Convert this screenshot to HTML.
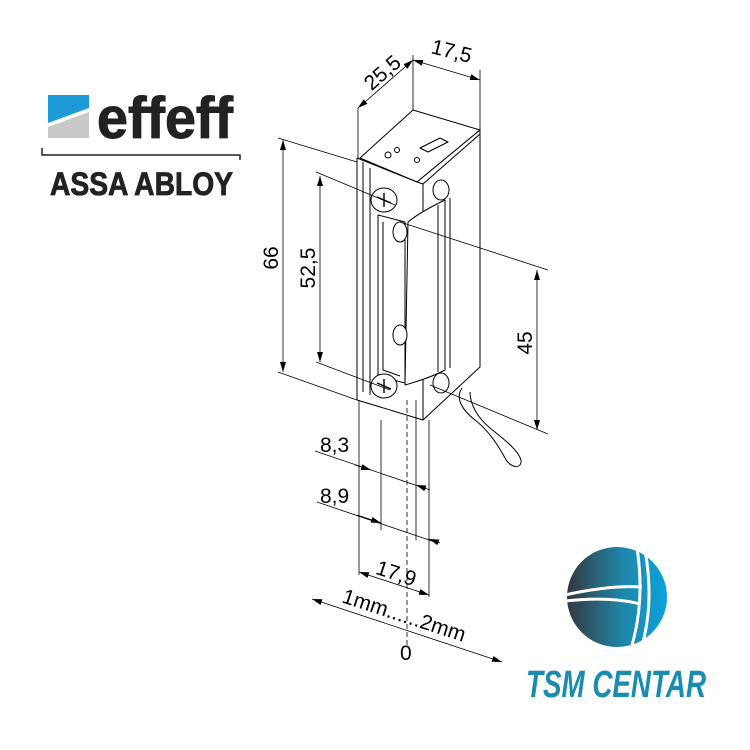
<!DOCTYPE html>
<html><head><meta charset="utf-8"><style>body{margin:0;background:#fff}svg{display:block}</style></head><body>
<svg width="750" height="750" viewBox="0 0 750 750" xmlns="http://www.w3.org/2000/svg" font-family="Liberation Sans, sans-serif">
<defs>
<linearGradient id="g" x1="0" x2="1" y1="0" y2="0"><stop offset="0" stop-color="#33383d"/><stop offset="0.55" stop-color="#1f86a8"/><stop offset="1" stop-color="#0aa2dc"/></linearGradient>
<marker id="a" viewBox="0 0 10 6" refX="10" refY="3" markerWidth="10" markerHeight="6" orient="auto-start-reverse" markerUnits="userSpaceOnUse"><path d="M0,0L10,3L0,6z" fill="#000"/></marker>
</defs>
<polygon points="48,95 89,95 89,108 48,123" fill="#1e9ad6"/>
<polygon points="48,127 89,112 89,138 48,138" fill="#c8c8c8"/>
<text x="97" y="138" font-size="58" font-weight="bold" fill="#222" stroke="#222" stroke-width="1" textLength="136" lengthAdjust="spacingAndGlyphs">effeff</text>
<path d="M42,148V155H240V160" fill="none" stroke="#222" stroke-width="1.5"/>
<text x="50" y="195" font-size="32" font-weight="bold" fill="#222" stroke="#222" stroke-width="0.8" textLength="183" lengthAdjust="spacingAndGlyphs">ASSA ABLOY</text>
<g stroke="#000" stroke-width="1" fill="#fff" stroke-linejoin="round">
<polygon points="360,158 413,110 480,130 417,182"/>
<polygon points="417,182 480,130 480,367 423,420 417,418"/>
<polygon points="357,158 417,182 423,184 423,420 357,400"/>
<line x1="423" y1="184" x2="480" y2="134"/>
<path d="M420,148 L440,138 L448,142 L428,152 Z"/>
<circle cx="388" cy="155" r="3"/><circle cx="397" cy="150" r="2.5"/><circle cx="417" cy="160" r="2.5"/>
<path d="M363,162 V392 M370,168 V395"/>
<path d="M378,215 L405,222 V383 L378,376 Z"/>
<path d="M383,222 V370 L400,376"/>
<path d="M408,222 Q420,212 445,200 V370 Q430,378 405,385 Z"/>
<path d="M438,205 V372 M450,198 V368"/>
<ellipse cx="384" cy="200" rx="13" ry="12"/><path d="M377,197 L391,203 M384,193 V207" stroke-width="1.4"/>
<ellipse cx="384" cy="386" rx="13" ry="12"/><path d="M377,383 L391,389 M384,379 V393" stroke-width="1.4"/>
<ellipse cx="441" cy="190" rx="8" ry="10"/><ellipse cx="441" cy="383" rx="8" ry="10"/>
<ellipse cx="400" cy="232" rx="7" ry="10"/><ellipse cx="400" cy="335" rx="7" ry="10"/>
<path d="M462,388 C455,398 462,410 475,420 C488,430 498,445 505,458 C510,468 522,470 521,460 C518,450 505,440 490,428 C478,418 470,405 470,392" />
</g>
<g stroke="#000" stroke-width="0.8" fill="none">
<path d="M358,108V158 M413,55V110 M480,70V132"/>
<line x1="358" y1="108" x2="413" y2="60" marker-start="url(#a)" marker-end="url(#a)"/>
<line x1="413" y1="60" x2="480" y2="80" marker-start="url(#a)" marker-end="url(#a)"/>
<path d="M278,138L357,162 M278,372L357,400 M316,172L395,205 M316,362L390,390 M400,222L548,270 M430,385L548,434"/>
<line x1="283" y1="140" x2="283" y2="372" marker-start="url(#a)" marker-end="url(#a)"/>
<line x1="320" y1="176" x2="320" y2="362" marker-start="url(#a)" marker-end="url(#a)"/>
<line x1="537" y1="270" x2="537" y2="430" marker-start="url(#a)" marker-end="url(#a)"/>
<path d="M359,400V575 M381,420V530 M416,400V540 M429,420V597"/>
<path d="M407,400V645" stroke-dasharray="5,3"/>
<line x1="315" y1="451" x2="424" y2="488"/>
<line x1="355" y1="465" x2="371" y2="470" marker-end="url(#a)"/>
<line x1="430" y1="490" x2="416" y2="485" marker-end="url(#a)"/>
<line x1="317" y1="502" x2="432" y2="541"/>
<line x1="357" y1="515" x2="381" y2="523" marker-end="url(#a)"/>
<line x1="440" y1="543" x2="429" y2="539" marker-end="url(#a)"/>
<line x1="359" y1="572" x2="429" y2="595" marker-start="url(#a)" marker-end="url(#a)"/>
<line x1="312" y1="599" x2="502" y2="662" marker-start="url(#a)" marker-end="url(#a)"/>
</g>
<g font-size="21" fill="#000">
<text transform="translate(278,258) rotate(-90)" text-anchor="middle">66</text>
<text transform="translate(315,268) rotate(-90)" text-anchor="middle">52,5</text>
<text transform="translate(532,343) rotate(-90)" text-anchor="middle">45</text>
<text transform="translate(387,78) rotate(-41)" text-anchor="middle">25,5</text>
<text transform="translate(450,58) rotate(14)" text-anchor="middle">17,5</text>
<text x="320" y="452">8,3</text>
<text x="320" y="503">8,9</text>
<text transform="translate(394,580) rotate(18)" text-anchor="middle">17,9</text>
<text transform="translate(402,622) rotate(18)" text-anchor="middle">1mm......2mm</text>
<text x="400" y="660">0</text>
</g>
<circle cx="617" cy="597" r="50" fill="url(#g)"/>
<path d="M565,595 Q610,585 642,587 M565,601 Q610,596 640,604" stroke="#fff" stroke-width="3" fill="none"/>
<path d="M637,548 Q645,600 632,645 M645,550 Q654,600 643,642" stroke="#fff" stroke-width="3" fill="none"/>
<text x="526" y="697" font-size="38" font-style="italic" font-weight="bold" fill="#1a8cb0" textLength="180" lengthAdjust="spacingAndGlyphs">TSM CENTAR</text>
</svg>
</body></html>
